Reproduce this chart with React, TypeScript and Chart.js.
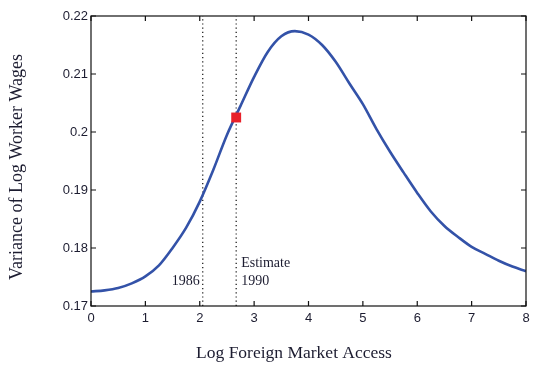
import React, { useEffect, useRef } from "react";
import { Chart, registerables } from "chart.js";

Chart.register(...registerables);

const xValues = [0, 0.25, 0.5, 0.75, 1, 1.25, 1.5, 1.75, 2, 2.25, 2.5, 2.75, 3, 3.25, 3.5, 3.75, 4, 4.25, 4.5, 4.75, 5, 5.25, 5.5, 5.75, 6, 6.25, 6.5, 6.75, 7, 7.25, 7.5, 7.75, 8];
const variance = [0.1725, 0.1727, 0.1731, 0.1739, 0.1751, 0.177, 0.18, 0.1835, 0.188, 0.1935, 0.1995, 0.2045, 0.2095, 0.2138, 0.2165, 0.2174, 0.2168, 0.215, 0.2121, 0.2084, 0.2048, 0.2005, 0.1966, 0.193, 0.1895, 0.1863, 0.1838, 0.1819, 0.1802, 0.179, 0.1778, 0.1768, 0.176];
const estimatePoint = { x: 2.67, y: 0.2025 };
const year1986X = 2.055;
const year1990X = 2.67;
const xTicks = [0, 1, 2, 3, 4, 5, 6, 7, 8];
const yTicks = [0.17, 0.18, 0.19, 0.2, 0.21, 0.22];
const xTitle = "Log Foreign Market Access";
const yTitle = "Variance of Log Worker Wages";

const TEXT = "#1c1c30";
const SERIF = "'Liberation Serif', 'DejaVu Serif', serif";

const overlay = {
  id: "overlay",
  afterDraw(chart: any) {
    const { ctx, chartArea: a, scales } = chart;
    const xs = scales.x;
    const ys = scales.y;
    ctx.save();
    ctx.strokeStyle = "#111";
    ctx.lineWidth = 1.2;
    ctx.strokeRect(a.left, a.top, a.right - a.left, a.bottom - a.top);
    const tl = 5;
    ctx.beginPath();
    xTicks.forEach((v) => {
      const p = xs.getPixelForValue(v);
      ctx.moveTo(p, a.bottom);
      ctx.lineTo(p, a.bottom - tl);
      ctx.moveTo(p, a.top);
      ctx.lineTo(p, a.top + tl);
    });
    yTicks.forEach((v) => {
      const p = ys.getPixelForValue(v);
      ctx.moveTo(a.left, p);
      ctx.lineTo(a.left + tl, p);
      ctx.moveTo(a.right, p);
      ctx.lineTo(a.right - tl, p);
    });
    ctx.stroke();
    ctx.fillStyle = TEXT;
    ctx.font = `14px ${SERIF}`;
    ctx.textBaseline = "middle";
    const p86 = xs.getPixelForValue(year1986X);
    const p90 = xs.getPixelForValue(year1990X);
    ctx.textAlign = "right";
    ctx.fillText("1986", p86 - 3, a.bottom - 25);
    ctx.textAlign = "left";
    ctx.fillText("Estimate", p90 + 5, a.bottom - 43);
    ctx.fillText("1990", p90 + 5, a.bottom - 25);
    ctx.textAlign = "center";
    ctx.font = `17.5px ${SERIF}`;
    ctx.fillText(xTitle, 294, 353);
    ctx.font = `18px ${SERIF}`;
    ctx.translate(17, 167);
    ctx.rotate(-Math.PI / 2);
    ctx.fillText(yTitle, 0, 0);
    ctx.restore();
  },
};

export default function App() {
  const ref = useRef<HTMLCanvasElement>(null);
  useEffect(() => {
    if (!ref.current) return;
    const chart = new Chart(ref.current, {
      type: "line",
      data: {
        datasets: [
          {
            data: [estimatePoint],
            order: 0,
            showLine: false,
            pointStyle: "rect",
            pointRadius: 7,
            pointBackgroundColor: "#e8202a",
            pointBorderColor: "#e8202a",
            pointBorderWidth: 0,
          },
          {
            data: xValues.map((x, i) => ({ x, y: variance[i] })),
            order: 1,
            borderColor: "#3352a8",
            borderWidth: 2.6,
            pointRadius: 0,
            cubicInterpolationMode: "monotone",
          },
          {
            data: [
              { x: year1986X, y: 0.17 },
              { x: year1986X, y: 0.22 },
            ],
            order: 2,
            borderColor: "#111",
            borderWidth: 1.2,
            borderDash: [1.2, 3],
            pointRadius: 0,
          },
          {
            data: [
              { x: year1990X, y: 0.17 },
              { x: year1990X, y: 0.22 },
            ],
            order: 2,
            borderColor: "#111",
            borderWidth: 1.2,
            borderDash: [1.2, 3],
            pointRadius: 0,
          },
        ],
      },
      options: {
        responsive: false,
        animation: false,
        layout: { padding: { top: 16, right: 19, left: 0, bottom: 0 } },
        plugins: { legend: { display: false }, tooltip: { enabled: false } },
        scales: {
          x: {
            type: "linear",
            min: 0,
            max: 8,
            afterFit: (s: any) => {
              s.height = 62;
            },
            afterBuildTicks: (s: any) => {
              s.ticks = xTicks.map((v) => ({ value: v }));
            },
            grid: { display: false, drawTicks: false },
            border: { display: false },
            ticks: {
              padding: 5,
              color: TEXT,
              font: { family: "'Liberation Sans', Arial, sans-serif", size: 13 },
              maxRotation: 0,
              callback: (v: any) => String(v),
            },
          },
          y: {
            type: "linear",
            min: 0.17,
            max: 0.22,
            afterFit: (s: any) => {
              s.width = 91;
            },
            afterBuildTicks: (s: any) => {
              s.ticks = yTicks.map((v) => ({ value: v }));
            },
            grid: { display: false, drawTicks: false },
            border: { display: false },
            ticks: {
              padding: 3,
              color: TEXT,
              font: { family: "'Liberation Sans', Arial, sans-serif", size: 13 },
              callback: (v: any) => String(Number(Number(v).toFixed(2))),
            },
          },
        },
      },
      plugins: [overlay],
    } as any);
    return () => chart.destroy();
  }, []);
  return (
    <div style={{ position: "fixed", left: 0, top: 0, width: 545, height: 368, background: "#fff" }}>
      <canvas ref={ref} width={545} height={368} />
    </div>
  );
}
